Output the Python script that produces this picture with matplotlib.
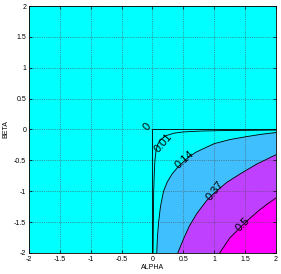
import matplotlib
matplotlib.use('Agg')
import matplotlib.pyplot as plt

plt.rcParams['font.family'] = ['Liberation Sans', 'DejaVu Sans']
plt.rcParams['axes.unicode_minus'] = False

# contour curves (alpha, beta)
zero_a = [0.0, 0.0, 2.0]
zero_b = [-2.0, 0.0, 0.0]

c001_a = [0.01, 0.015, 0.02, 0.03, 0.04, 0.06, 0.09, 0.14, 0.22, 0.35, 0.5, 0.8, 1.2, 2.0]
c001_b = [-2.0, -1.5, -1.0, -0.7, -0.5, -0.33, -0.23, -0.16, -0.1, -0.06, -0.04, -0.025, -0.017, -0.01]

c014_a = [0.07, 0.08, 0.1, 0.13, 0.18, 0.24, 0.32, 0.42, 0.55, 0.7, 1.0, 1.25, 1.5, 1.75, 2.0]
c014_b = [-2.0, -1.75, -1.5, -1.25, -1.0, -0.85, -0.72, -0.6, -0.48, -0.37, -0.23, -0.165, -0.12, -0.08, -0.05]

c037_a = [0.41, 0.5, 0.6, 0.72, 0.88, 1.0, 1.2, 1.42, 1.69, 2.0]
c037_b = [-2.0, -1.78, -1.56, -1.36, -1.15, -1.03, -0.86, -0.72, -0.56, -0.41]

c05_a = [1.09, 1.17, 1.25, 1.36, 1.47, 1.6, 1.74, 1.87, 2.0]
c05_b = [-2.0, -1.88, -1.76, -1.65, -1.54, -1.42, -1.3, -1.2, -1.11]

levels = ['0', '0.01', '0.14', '0.37', '0.5']
ticks = [-2, -1.5, -1, -0.5, 0, 0.5, 1, 1.5, 2]

# cool colormap steps
cyan = (0.0, 1.0, 1.0)
lblue = (0.25, 0.75, 1.0)
purple = (0.75, 0.25, 1.0)
magenta = (1.0, 0.0, 1.0)

fig = plt.figure(figsize=(2.81, 2.74), dpi=100)
ax = fig.add_axes([0.103, 0.077, 0.879, 0.901])
ax.set_facecolor(cyan)

# filled bands: everything to the lower right of each curve
for xs, ys, col in [(c014_a, c014_b, lblue), (c037_a, c037_b, purple), (c05_a, c05_b, magenta)]:
    ax.fill(list(xs) + [2.0], list(ys) + [-2.0], color=col, lw=0, zorder=1)

for xs, ys in [(zero_a, zero_b), (c001_a, c001_b), (c014_a, c014_b), (c037_a, c037_b), (c05_a, c05_b)]:
    ax.plot(xs, ys, color='k', lw=0.6, zorder=3, solid_joinstyle='round')

# inline labels
lab_pos = [(-0.08, 0.04, 50), (0.18, -0.21, 49), (0.52, -0.48, 42), (1.01, -0.99, 51), (1.47, -1.54, 45)]
for txt, (x, y, r) in zip(levels, lab_pos):
    ax.text(x, y, txt, rotation=r, ha='center', va='center', fontsize=8,
            rotation_mode='anchor', zorder=4)

ax.set_xlim(-2, 2)
ax.set_ylim(-2, 2)
ax.set_xticks(ticks)
ax.set_yticks(ticks)
ax.set_xticklabels([('%g' % t) for t in ticks])
ax.set_yticklabels([('%g' % t) for t in ticks])
ax.tick_params(direction='in', length=2.5, width=0.5, labelsize=5, pad=2,
               top=True, right=True)
ax.grid(True, linestyle=':', color='0.3', lw=0.5, zorder=2)
ax.set_axisbelow(False)
for s in ax.spines.values():
    s.set_linewidth(0.6)
    s.set_zorder(5)

ax.set_xlabel('ALPHA', fontsize=5, labelpad=1)
ax.set_ylabel('BETA', fontsize=5, labelpad=3)

fig.savefig('out.png', dpi=100)
